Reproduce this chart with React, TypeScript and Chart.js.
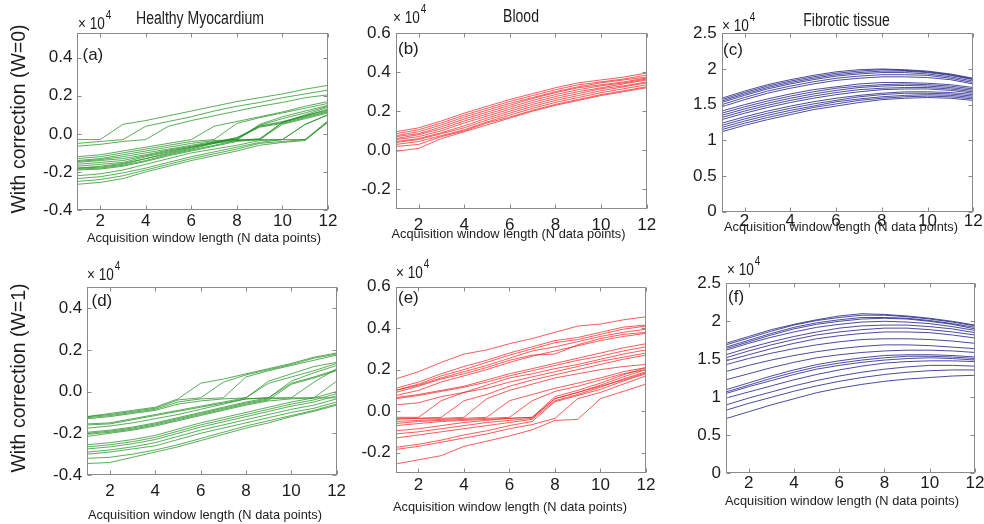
import React, { useEffect, useRef } from 'react';
import { Chart, registerables } from 'chart.js';

Chart.register(...registerables);

// ---------- data (values in units of 10^4) ----------
const X_VALUES = [1, 2, 3, 4, 5, 6, 7, 8, 9, 10, 11, 12];
const X_TICKS = [2, 4, 6, 8, 10, 12];
const Y_TICKS_MYO = [-0.4, -0.2, 0, 0.2, 0.4];
const Y_TICKS_BLOOD = [-0.2, 0, 0.2, 0.4, 0.6];
const Y_TICKS_FIB = [0, 0.5, 1, 1.5, 2, 2.5];

const ROW_LABELS = ['With correction (W=0)', 'With correction (W=1)'];
const COLUMN_TITLES = ['Healthy Myocardium', 'Blood', 'Fibrotic tissue'];
const PANEL_TAGS = ['(a)', '(b)', '(c)', '(d)', '(e)', '(f)'];
const X_TITLE = 'Acquisition window length (N data points)';

const HEALTHY_W0 = [
  [-0.03, -0.03, 0.05, 0.07, 0.095, 0.12, 0.145, 0.17, 0.19, 0.21, 0.235, 0.255],
  [-0.05, -0.04, -0.03, 0.04, 0.065, 0.09, 0.12, 0.145, 0.165, 0.19, 0.21, 0.23],
  [-0.065, -0.055, -0.04, -0.03, 0.04, 0.07, 0.095, 0.12, 0.145, 0.165, 0.19, 0.205],
  [-0.12, -0.11, -0.09, -0.07, -0.05, -0.03, 0.04, 0.065, 0.09, 0.115, 0.145, 0.17],
  [-0.13, -0.12, -0.10, -0.08, -0.06, -0.04, -0.03, 0.055, 0.085, 0.11, 0.135, 0.16],
  [-0.14, -0.13, -0.11, -0.09, -0.07, -0.05, -0.035, -0.03, 0.05, 0.09, 0.12, 0.15],
  [-0.145, -0.135, -0.12, -0.10, -0.08, -0.06, -0.04, -0.03, 0.045, 0.08, 0.11, 0.145],
  [-0.15, -0.14, -0.13, -0.11, -0.085, -0.065, -0.045, -0.03, -0.03, 0.06, 0.10, 0.14],
  [-0.16, -0.15, -0.14, -0.115, -0.09, -0.07, -0.05, -0.035, -0.025, 0.06, 0.095, 0.13],
  [-0.17, -0.16, -0.15, -0.12, -0.095, -0.07, -0.045, -0.02, 0.04, 0.065, 0.095, 0.125],
  [-0.18, -0.175, -0.16, -0.13, -0.10, -0.075, -0.045, -0.02, 0.04, 0.06, 0.09, 0.12],
  [-0.18, -0.17, -0.155, -0.13, -0.105, -0.08, -0.05, -0.025, 0.035, 0.055, 0.085, 0.115],
  [-0.185, -0.18, -0.165, -0.14, -0.11, -0.085, -0.06, -0.035, -0.03, -0.03, 0.05, 0.10],
  [-0.19, -0.185, -0.17, -0.145, -0.115, -0.09, -0.065, -0.04, -0.03, 0.05, 0.08, 0.11],
  [-0.22, -0.21, -0.19, -0.16, -0.13, -0.10, -0.08, -0.06, -0.035, -0.03, -0.03, 0.06],
  [-0.235, -0.225, -0.205, -0.18, -0.15, -0.12, -0.095, -0.07, -0.045, -0.03, 0.05, 0.10],
  [-0.25, -0.24, -0.22, -0.19, -0.16, -0.13, -0.105, -0.08, -0.05, -0.04, -0.03, 0.07],
  [-0.265, -0.255, -0.235, -0.20, -0.17, -0.14, -0.115, -0.09, -0.06, -0.045, -0.035, 0.065],
];

const BLOOD_W0 = [
  [0.095, 0.115, 0.15, 0.19, 0.225, 0.26, 0.29, 0.32, 0.345, 0.36, 0.375, 0.395],
  [0.085, 0.105, 0.14, 0.18, 0.215, 0.25, 0.28, 0.31, 0.335, 0.35, 0.365, 0.385],
  [0.075, 0.095, 0.13, 0.17, 0.205, 0.24, 0.27, 0.30, 0.325, 0.345, 0.36, 0.375],
  [0.07, 0.085, 0.12, 0.16, 0.195, 0.23, 0.265, 0.295, 0.32, 0.335, 0.35, 0.37],
  [0.06, 0.08, 0.11, 0.15, 0.185, 0.22, 0.255, 0.285, 0.31, 0.33, 0.345, 0.365],
  [0.055, 0.07, 0.10, 0.14, 0.175, 0.21, 0.245, 0.275, 0.30, 0.32, 0.34, 0.36],
  [0.045, 0.06, 0.09, 0.125, 0.165, 0.20, 0.235, 0.265, 0.29, 0.315, 0.33, 0.35],
  [0.04, 0.055, 0.085, 0.115, 0.155, 0.19, 0.225, 0.255, 0.28, 0.305, 0.325, 0.345],
  [0.03, 0.045, 0.075, 0.105, 0.145, 0.18, 0.215, 0.245, 0.27, 0.295, 0.315, 0.335],
  [0.02, 0.03, 0.07, 0.10, 0.14, 0.17, 0.205, 0.235, 0.26, 0.285, 0.305, 0.325],
  [-0.005, 0.01, 0.06, 0.095, 0.13, 0.165, 0.20, 0.23, 0.255, 0.28, 0.30, 0.32],
];

const FIBROTIC_W0 = [
  [1.59, 1.69, 1.78, 1.85, 1.91, 1.96, 1.99, 2.00, 1.99, 1.97, 1.93, 1.87],
  [1.57, 1.67, 1.76, 1.83, 1.89, 1.94, 1.97, 1.99, 1.98, 1.96, 1.92, 1.86],
  [1.55, 1.65, 1.74, 1.81, 1.87, 1.92, 1.95, 1.97, 1.97, 1.95, 1.91, 1.85],
  [1.53, 1.63, 1.72, 1.79, 1.85, 1.90, 1.93, 1.95, 1.95, 1.93, 1.89, 1.83],
  [1.50, 1.60, 1.69, 1.76, 1.82, 1.87, 1.90, 1.92, 1.92, 1.91, 1.87, 1.81],
  [1.47, 1.57, 1.66, 1.73, 1.79, 1.84, 1.87, 1.89, 1.89, 1.88, 1.85, 1.79],
  [1.41, 1.50, 1.58, 1.65, 1.71, 1.75, 1.79, 1.81, 1.81, 1.80, 1.78, 1.74],
  [1.38, 1.47, 1.55, 1.62, 1.68, 1.73, 1.76, 1.78, 1.79, 1.78, 1.76, 1.72],
  [1.35, 1.44, 1.52, 1.59, 1.65, 1.70, 1.74, 1.76, 1.77, 1.76, 1.74, 1.70],
  [1.32, 1.41, 1.49, 1.56, 1.62, 1.67, 1.71, 1.73, 1.74, 1.74, 1.72, 1.68],
  [1.29, 1.38, 1.46, 1.53, 1.59, 1.64, 1.68, 1.71, 1.72, 1.72, 1.70, 1.66],
  [1.24, 1.33, 1.41, 1.48, 1.54, 1.59, 1.63, 1.66, 1.68, 1.68, 1.67, 1.64],
  [1.21, 1.30, 1.38, 1.45, 1.51, 1.56, 1.61, 1.64, 1.66, 1.66, 1.65, 1.62],
  [1.18, 1.27, 1.35, 1.42, 1.48, 1.54, 1.58, 1.61, 1.63, 1.64, 1.63, 1.60],
  [1.15, 1.24, 1.32, 1.39, 1.46, 1.51, 1.56, 1.59, 1.61, 1.62, 1.61, 1.58],
  [1.12, 1.21, 1.29, 1.36, 1.43, 1.48, 1.53, 1.57, 1.59, 1.60, 1.59, 1.56],
];

const HEALTHY_W1 = [
  [-0.12, -0.105, -0.09, -0.075, -0.035, 0.04, 0.06, 0.085, 0.11, 0.135, 0.165, 0.185],
  [-0.12, -0.11, -0.095, -0.08, -0.04, -0.03, 0.045, 0.08, 0.105, 0.13, 0.16, 0.18],
  [-0.125, -0.115, -0.10, -0.085, -0.05, -0.035, -0.03, 0.07, 0.10, 0.125, 0.15, 0.175],
  [-0.13, -0.12, -0.105, -0.09, -0.06, -0.045, -0.035, -0.03, 0.05, 0.085, 0.12, 0.14],
  [-0.155, -0.15, -0.13, -0.11, -0.09, -0.07, -0.05, -0.03, 0.04, 0.07, 0.10, 0.135],
  [-0.16, -0.155, -0.135, -0.115, -0.095, -0.075, -0.055, -0.035, -0.03, 0.05, 0.09, 0.125],
  [-0.175, -0.165, -0.15, -0.13, -0.11, -0.085, -0.06, -0.035, -0.03, -0.03, 0.045, 0.11],
  [-0.195, -0.185, -0.17, -0.15, -0.125, -0.10, -0.075, -0.05, -0.03, 0.04, 0.07, 0.105],
  [-0.20, -0.19, -0.175, -0.155, -0.13, -0.105, -0.08, -0.055, -0.035, -0.03, -0.03, 0.05],
  [-0.205, -0.195, -0.18, -0.16, -0.135, -0.11, -0.085, -0.06, -0.04, 0.035, 0.065, 0.10],
  [-0.215, -0.20, -0.185, -0.165, -0.14, -0.115, -0.09, -0.065, -0.045, -0.035, -0.03, -0.03],
  [-0.255, -0.245, -0.23, -0.21, -0.18, -0.15, -0.125, -0.10, -0.075, -0.05, -0.03, 0.0],
  [-0.265, -0.255, -0.24, -0.22, -0.19, -0.16, -0.135, -0.11, -0.085, -0.06, -0.04, -0.01],
  [-0.275, -0.265, -0.25, -0.23, -0.20, -0.17, -0.145, -0.12, -0.095, -0.07, -0.05, -0.02],
  [-0.29, -0.28, -0.265, -0.245, -0.215, -0.185, -0.16, -0.135, -0.11, -0.085, -0.065, -0.035],
  [-0.30, -0.29, -0.275, -0.26, -0.23, -0.20, -0.175, -0.15, -0.125, -0.10, -0.08, -0.05],
  [-0.32, -0.315, -0.30, -0.28, -0.255, -0.225, -0.195, -0.165, -0.14, -0.115, -0.09, -0.06],
  [-0.345, -0.34, -0.315, -0.29, -0.265, -0.235, -0.205, -0.175, -0.15, -0.12, -0.095, -0.065],
];

const BLOOD_W1 = [
  [0.155, 0.19, 0.235, 0.275, 0.295, 0.325, 0.35, 0.38, 0.41, 0.42, 0.44, 0.455],
  [0.11, 0.14, 0.18, 0.215, 0.245, 0.28, 0.31, 0.34, 0.355, 0.38, 0.405, 0.415],
  [0.10, 0.13, 0.17, 0.20, 0.235, 0.27, 0.30, 0.33, 0.345, 0.37, 0.395, 0.41],
  [0.10, 0.125, 0.16, 0.19, 0.22, 0.255, 0.29, 0.31, 0.335, 0.36, 0.38, 0.395],
  [0.09, 0.12, 0.155, 0.18, 0.21, 0.245, 0.27, 0.275, 0.32, 0.35, 0.37, 0.38],
  [0.075, 0.10, 0.14, 0.17, 0.20, 0.235, 0.265, 0.29, 0.315, 0.34, 0.36, 0.375],
  [0.065, 0.08, 0.10, 0.12, 0.15, 0.18, 0.205, 0.23, 0.255, 0.28, 0.305, 0.325],
  [0.06, 0.075, 0.095, 0.115, 0.14, 0.17, 0.195, 0.22, 0.245, 0.265, 0.29, 0.31],
  [0.03, 0.04, 0.07, 0.09, 0.125, 0.16, 0.18, 0.205, 0.225, 0.25, 0.275, 0.295],
  [-0.03, -0.03, 0.05, 0.09, 0.11, 0.14, 0.165, 0.19, 0.215, 0.24, 0.26, 0.28],
  [-0.035, -0.035, -0.03, 0.05, 0.08, 0.12, 0.15, 0.175, 0.20, 0.225, 0.25, 0.27],
  [-0.04, -0.035, -0.035, -0.03, 0.06, 0.10, 0.13, 0.16, 0.18, 0.20, 0.215, 0.225],
  [-0.05, -0.045, -0.04, -0.035, -0.03, 0.05, 0.08, 0.11, 0.135, 0.16, 0.19, 0.21],
  [-0.06, -0.05, -0.045, -0.04, -0.035, -0.03, 0.05, 0.095, 0.12, 0.15, 0.18, 0.20],
  [-0.07, -0.06, -0.05, -0.045, -0.04, -0.035, -0.03, 0.06, 0.09, 0.12, 0.15, 0.185],
  [-0.095, -0.085, -0.07, -0.055, -0.045, -0.035, -0.03, 0.07, 0.10, 0.135, 0.175, 0.21],
  [-0.11, -0.10, -0.085, -0.07, -0.055, -0.045, -0.035, 0.06, 0.09, 0.125, 0.165, 0.20],
  [-0.13, -0.115, -0.10, -0.085, -0.07, -0.055, -0.04, 0.05, 0.08, 0.115, 0.155, 0.19],
  [-0.175, -0.16, -0.14, -0.115, -0.095, -0.07, -0.05, 0.045, 0.075, 0.105, 0.145, 0.18],
  [-0.185, -0.17, -0.15, -0.13, -0.11, -0.085, -0.065, -0.035, 0.06, 0.09, 0.13, 0.17],
  [-0.255, -0.235, -0.215, -0.17, -0.145, -0.12, -0.09, -0.045, -0.04, 0.06, 0.095, 0.13],
];

const FIBROTIC_W1 = [
  [1.71, 1.80, 1.89, 1.96, 2.02, 2.07, 2.10, 2.09, 2.07, 2.04, 2.00, 1.95],
  [1.69, 1.78, 1.87, 1.95, 2.01, 2.05, 2.08, 2.08, 2.06, 2.03, 1.99, 1.94],
  [1.66, 1.75, 1.84, 1.92, 1.98, 2.02, 2.05, 2.05, 2.04, 2.01, 1.97, 1.92],
  [1.64, 1.73, 1.82, 1.90, 1.96, 2.00, 2.03, 2.04, 2.03, 2.00, 1.96, 1.90],
  [1.62, 1.71, 1.79, 1.86, 1.92, 1.96, 1.99, 2.00, 1.99, 1.97, 1.93, 1.88],
  [1.56, 1.65, 1.73, 1.80, 1.86, 1.91, 1.94, 1.95, 1.95, 1.93, 1.90, 1.85],
  [1.52, 1.61, 1.69, 1.76, 1.82, 1.86, 1.89, 1.91, 1.91, 1.89, 1.86, 1.82],
  [1.48, 1.56, 1.64, 1.71, 1.77, 1.81, 1.84, 1.86, 1.86, 1.85, 1.82, 1.78],
  [1.43, 1.51, 1.58, 1.64, 1.69, 1.73, 1.76, 1.77, 1.77, 1.76, 1.74, 1.71],
  [1.34, 1.42, 1.49, 1.55, 1.60, 1.64, 1.67, 1.69, 1.69, 1.68, 1.66, 1.64],
  [1.23, 1.31, 1.39, 1.46, 1.52, 1.56, 1.59, 1.61, 1.62, 1.62, 1.61, 1.59],
  [1.10, 1.19, 1.28, 1.36, 1.43, 1.48, 1.52, 1.55, 1.56, 1.56, 1.55, 1.53],
  [1.07, 1.16, 1.25, 1.33, 1.40, 1.45, 1.49, 1.52, 1.54, 1.54, 1.53, 1.51],
  [1.05, 1.14, 1.22, 1.30, 1.37, 1.42, 1.46, 1.49, 1.51, 1.52, 1.51, 1.49],
  [0.99, 1.07, 1.15, 1.23, 1.30, 1.36, 1.41, 1.45, 1.47, 1.48, 1.48, 1.47],
  [0.90, 0.99, 1.07, 1.15, 1.22, 1.28, 1.33, 1.37, 1.40, 1.42, 1.42, 1.41],
  [0.83, 0.92, 1.00, 1.08, 1.15, 1.21, 1.26, 1.30, 1.33, 1.35, 1.36, 1.36],
  [0.72, 0.81, 0.90, 0.98, 1.06, 1.12, 1.17, 1.21, 1.24, 1.26, 1.28, 1.29],
];

// ---------- styles ----------
const GREEN = 'rgba(35,145,35,0.75)';
const RED = 'rgba(238,30,30,0.72)';
const BLUE = 'rgba(30,30,135,0.8)';
const TEXT = '#1c1c1c';
const BOX = '#8a8a8a';
const REGULAR = '"Liberation Sans", Arial, sans-serif';

const fmt1 = (v: number) => (Math.abs(v) < 1e-9 ? '0.0' : v.toFixed(1));
const fmtPlain = (v: number) => String(Math.round(v * 10) / 10);

type Panel = {
  key: string;
  series: number[][];
  color: string;
  yMin: number;
  yMax: number;
  yTicks: number[];
  fmt: (v: number) => string;
  plot: [number, number, number, number];
  canvas: [number, number, number, number];
  tag: string;
  tagPos: [number, number];
  title?: string;
  titlePos?: [number, number];
  rowLabel?: string;
  rowLabelPos?: [number, number];
  xTitlePos: [number, number];
  expPos: [number, number];
  xTickPad: number;
};

const PANELS: Panel[] = [
  {
    key: 'a', series: HEALTHY_W0, color: GREEN, yMin: -0.4, yMax: 0.53, yTicks: Y_TICKS_MYO, fmt: fmt1,
    plot: [77.4, 33, 328, 210], canvas: [0, 0, 350, 255], tag: PANEL_TAGS[0], tagPos: [82.5, 60],
    title: COLUMN_TITLES[0], titlePos: [200, 24], rowLabel: ROW_LABELS[0], rowLabelPos: [20, 119],
    xTitlePos: [204, 242], expPos: [78, 29], xTickPad: 3,
  },
  {
    key: 'b', series: BLOOD_W0, color: RED, yMin: -0.3, yMax: 0.6, yTicks: Y_TICKS_BLOOD, fmt: fmt1,
    plot: [395.7, 33, 646.7, 209], canvas: [330, 0, 340, 255], tag: PANEL_TAGS[1], tagPos: [398, 54],
    title: COLUMN_TITLES[1], titlePos: [521, 22],
    xTitlePos: [508.5, 238], expPos: [393, 23], xTickPad: 8,
  },
  {
    key: 'c', series: FIBROTIC_W0, color: BLUE, yMin: 0, yMax: 2.5, yTicks: Y_TICKS_FIB, fmt: fmtPlain,
    plot: [721.7, 33.3, 973.3, 211.7], canvas: [660, 0, 344, 255], tag: PANEL_TAGS[2], tagPos: [723, 55],
    title: COLUMN_TITLES[2], titlePos: [846.5, 26],
    xTitlePos: [841, 231], expPos: [722, 31], xTickPad: 1.5,
  },
  {
    key: 'd', series: HEALTHY_W1, color: GREEN, yMin: -0.4, yMax: 0.5, yTicks: Y_TICKS_MYO, fmt: fmt1,
    plot: [87.3, 287.3, 336.6, 475], canvas: [0, 255, 360, 269], tag: PANEL_TAGS[3], tagPos: [91.5, 306],
    rowLabel: ROW_LABELS[1], rowLabelPos: [20, 378],
    xTitlePos: [205, 519], expPos: [87, 280], xTickPad: 8,
  },
  {
    key: 'e', series: BLOOD_W1, color: RED, yMin: -0.3, yMax: 0.6, yTicks: Y_TICKS_BLOOD, fmt: fmt1,
    plot: [395.7, 286.7, 646, 473.3], canvas: [330, 255, 340, 269], tag: PANEL_TAGS[4], tagPos: [398, 303],
    xTitlePos: [510, 511], expPos: [396, 278], xTickPad: 3.5,
  },
  {
    key: 'f', series: FIBROTIC_W1, color: BLUE, yMin: 0, yMax: 2.5, yTicks: Y_TICKS_FIB, fmt: fmtPlain,
    plot: [726, 283.3, 975, 473.3], canvas: [660, 255, 344, 269], tag: PANEL_TAGS[5], tagPos: [728, 302],
    xTitlePos: [842, 505], expPos: [727, 275], xTickPad: 1.5,
  },
];

// draws text horizontally condensed (the reference uses a narrow sans face)
function condensedText(ctx: CanvasRenderingContext2D, text: string, x: number, y: number, sx: number) {
  ctx.save();
  ctx.translate(x, y);
  ctx.scale(sx, 1);
  ctx.fillText(text, 0, 0);
  ctx.restore();
}

function decorPlugin(p: Panel) {
  return {
    id: 'decor_' + p.key,
    afterDraw(chart: any) {
      const { ctx, chartArea: a, scales } = chart;
      const xs = scales.x;
      const ys = scales.y;
      const ox = p.canvas[0];
      const oy = p.canvas[1];
      ctx.save();
      // frame + inward ticks on all four sides
      ctx.strokeStyle = BOX;
      ctx.lineWidth = 1;
      const L = Math.round(a.left) + 0.5;
      const R = Math.round(a.right) - 0.5;
      const T = Math.round(a.top) + 0.5;
      const B = Math.round(a.bottom) - 0.5;
      ctx.strokeRect(L, T, R - L, B - T);
      ctx.beginPath();
      X_TICKS.forEach((v) => {
        const px = Math.round(xs.getPixelForValue(v)) + 0.5;
        ctx.moveTo(px, B); ctx.lineTo(px, B - 4);
        ctx.moveTo(px, T); ctx.lineTo(px, T + 4);
      });
      p.yTicks.forEach((v) => {
        const py = Math.round(ys.getPixelForValue(v)) + 0.5;
        ctx.moveTo(L, py); ctx.lineTo(L + 4, py);
        ctx.moveTo(R, py); ctx.lineTo(R - 4, py);
      });
      ctx.stroke();

      ctx.fillStyle = TEXT;
      // panel tag
      ctx.font = `17px ${REGULAR}`;
      ctx.textAlign = 'left';
      ctx.textBaseline = 'alphabetic';
      ctx.fillText(p.tag, p.tagPos[0] - ox, p.tagPos[1] - oy);

      // exponent "× 10^4"
      ctx.font = `17px ${REGULAR}`;
      const base = '× 10';
      const sx = 0.8;
      condensedText(ctx, base, p.expPos[0] - ox, p.expPos[1] - oy, sx);
      const w = ctx.measureText(base).width * sx;
      ctx.font = `12.5px ${REGULAR}`;
      condensedText(ctx, '4', p.expPos[0] - ox + w + 1, p.expPos[1] - oy - 10, sx);

      // x axis title
      ctx.font = `12.8px ${REGULAR}`;
      ctx.textAlign = 'center';
      ctx.fillText(X_TITLE, p.xTitlePos[0] - ox, p.xTitlePos[1] - oy);

      // column title
      if (p.title && p.titlePos) {
        ctx.font = `18px ${REGULAR}`;
        condensedText(ctx, p.title, p.titlePos[0] - ox, p.titlePos[1] - oy, 0.78);
      }

      // row label
      if (p.rowLabel && p.rowLabelPos) {
        ctx.save();
        ctx.translate(p.rowLabelPos[0] - ox, p.rowLabelPos[1] - oy);
        ctx.rotate(-Math.PI / 2);
        ctx.font = `19.5px ${REGULAR}`;
        ctx.textAlign = 'center';
        ctx.textBaseline = 'middle';
        ctx.fillText(p.rowLabel, 0, 0);
        ctx.restore();
      }
      ctx.restore();
    },
  };
}

function PanelChart({ p }: { p: Panel }) {
  const ref = useRef<HTMLCanvasElement | null>(null);
  const [cl, ct, cw, ch] = p.canvas;
  useEffect(() => {
    const [x0, y0, x1, y1] = p.plot;
    const chart = new Chart(ref.current as HTMLCanvasElement, {
      type: 'line',
      data: {
        datasets: p.series.map((s, i) => ({
          label: `${p.tag} ${i + 1}`,
          data: s.map((v, j) => ({ x: X_VALUES[j], y: v })),
          borderColor: p.color,
          backgroundColor: p.color,
          borderWidth: 1,
          pointRadius: 0,
          fill: false,
          tension: 0,
        })),
      },
      options: {
        responsive: false,
        maintainAspectRatio: false,
        animation: false,
        devicePixelRatio: 1,
        events: [],
        layout: { padding: { left: 0, top: y0 - ct, right: cl + cw - x1, bottom: 0 } },
        plugins: {
          legend: { display: false },
          tooltip: { enabled: false },
          title: { display: false },
        },
        scales: {
          x: {
            type: 'linear',
            min: 1,
            max: 12,
            afterBuildTicks: (s: any) => { s.ticks = X_TICKS.map((v) => ({ value: v })); },
            afterFit: (s: any) => { s.height = ct + ch - y1; },
            grid: { display: false, drawTicks: false },
            border: { display: false },
            ticks: {
              padding: p.xTickPad,
              color: TEXT,
              maxRotation: 0,
              autoSkip: false,
              font: { family: REGULAR, size: 17, lineHeight: 1 },
            },
          },
          y: {
            type: 'linear',
            min: p.yMin,
            max: p.yMax,
            afterBuildTicks: (s: any) => { s.ticks = p.yTicks.map((v) => ({ value: v })); },
            afterFit: (s: any) => { s.width = x0 - cl; },
            grid: { display: false, drawTicks: false },
            border: { display: false },
            ticks: {
              padding: 5,
              color: TEXT,
              autoSkip: false,
              callback: (v: any) => p.fmt(Number(v)),
              font: { family: REGULAR, size: 17, lineHeight: 1 },
            },
          },
        },
      } as any,
      plugins: [decorPlugin(p)],
    });
    return () => chart.destroy();
  }, [p]);
  return (
    <canvas
      ref={ref}
      width={cw}
      height={ch}
      style={{ position: 'absolute', left: cl, top: ct, width: cw, height: ch }}
    />
  );
}

export default function App() {
  return (
    <div
      style={{
        position: 'fixed',
        left: 0,
        top: 0,
        width: 984,
        height: 524,
        overflow: 'hidden',
        background: '#ffffff',
      }}
    >
      {PANELS.map((p) => (
        <PanelChart key={p.key} p={p} />
      ))}
    </div>
  );
}
